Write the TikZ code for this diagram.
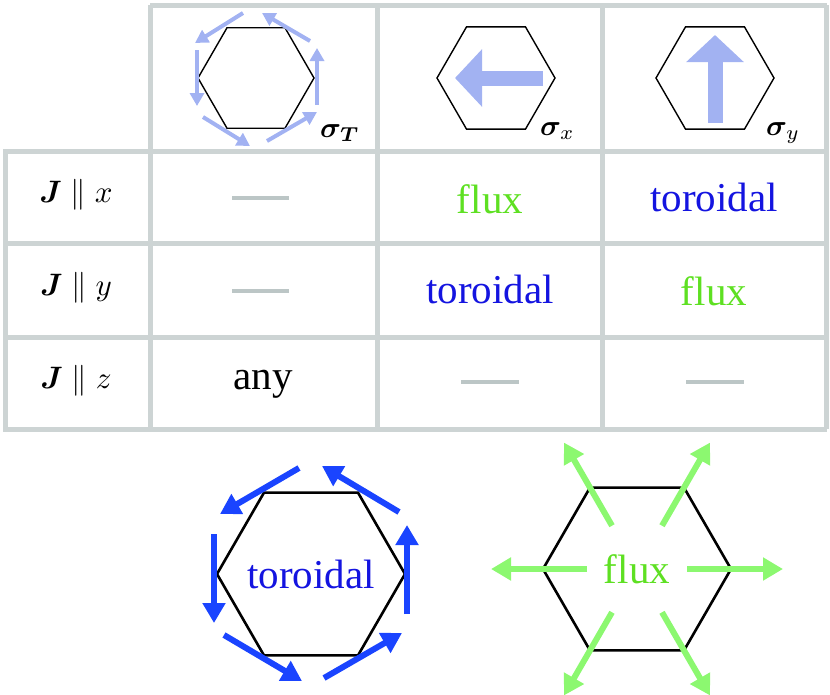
\documentclass[tikz,border=0pt]{standalone}
\usepackage{graphicx}
\usepackage{amsmath,bm}
\usepackage{fontspec}
\setmainfont{Liberation Serif}
\usetikzlibrary{arrows.meta,calc}
\definecolor{grid}{HTML}{CDD4D4}
\definecolor{dashc}{HTML}{BCC6C6}
\definecolor{lblue}{HTML}{A2B2F2}
\definecolor{tblue}{HTML}{1414E0}
\definecolor{ablue}{HTML}{1A44FF}
\definecolor{tgreen}{HTML}{5EE022}
\definecolor{agreen}{HTML}{8CF870}
\newcommand{\mybig}[2]{\scalebox{#1}{#2}}
\tikzset{
  gridline/.style={grid,line width=5pt},
  hex/.style={black,line width=1.4pt},
  hexb/.style={black,line width=2.6pt},
  txt/.style={font=\fontsize{41}{44}\selectfont,inner sep=0pt},
  lab/.style={inner sep=0pt},
  sig/.style={inner sep=0pt,anchor=base west},
  nada/.style={dashc,line width=4pt},
  tsmall/.style={lblue,line width=4pt,-{Triangle[length=13pt,width=14pt]}},
  tbig/.style={lblue,line width=15pt,-{Triangle[length=27pt,width=56pt]}},
  tor/.style={ablue,line width=6pt,-{Triangle[length=20pt,width=22pt]}},
  flx/.style={agreen,line width=6pt,-{Triangle[length=20pt,width=22pt]}},
}
\begin{document}
\begin{tikzpicture}[x=1pt,y=-1pt]
\useasboundingbox (0,0) rectangle (830,694);
% grid
\draw[gridline] (150,5) -- (827,5);
\draw[gridline] (3,151) -- (827,151);
\draw[gridline] (3,243) -- (827,243);
\draw[gridline] (3,337) -- (827,337);
\draw[gridline] (3,429) -- (827,429);
\draw[gridline] (5,151) -- (5,429);
\draw[gridline] (150,5) -- (150,429);
\draw[gridline] (377,5) -- (377,429);
\draw[gridline] (602,5) -- (602,429);
\draw[gridline] (826,5) -- (826,429);
% header hexagons
\draw[hex] (256,78) ++(0:58) -- ++(120:58) -- ++(180:58) -- ++(240:58) -- ++(300:58) -- ++(0:58) -- cycle;
\draw[hex] (496,78) ++(0:59) -- ++(120:59) -- ++(180:59) -- ++(240:59) -- ++(300:59) -- ++(0:59) -- cycle;
\draw[hex] (715,78) ++(0:59) -- ++(120:59) -- ++(180:59) -- ++(240:59) -- ++(300:59) -- ++(0:59) -- cycle;
\coordinate (t1a) at (317,105); \coordinate (t1b) at (317,48);
\coordinate (t2a) at (310,41); \coordinate (t2b) at (262,13);
\coordinate (t3a) at (243,13); \coordinate (t3b) at (195,43);
\coordinate (t4a) at (197,50); \coordinate (t4b) at (197,106);
\coordinate (t5a) at (203,117); \coordinate (t5b) at (250,146);
\coordinate (t6a) at (267,141); \coordinate (t6b) at (317,112);
\foreach \i in {1,...,6} \draw[tsmall] (t\i a) -- (t\i b);
\coordinate (xa) at (543,78); \coordinate (xb) at (455,78);
\draw[tbig] (xa) -- (xb);
\coordinate (ya) at (715,123); \coordinate (yb) at (715,35);
\draw[tbig] (ya) -- (yb);
\node[sig] (sT) at (320,137) {\mybig{2.9}{$\bm{\sigma_T}$}};
\node[sig] (sX) at (540,135) {\mybig{2.9}{$\bm{\sigma}_x$}};
\node[sig] (sY) at (766,135) {\mybig{2.9}{$\bm{\sigma}_y$}};
% row labels
\node[lab] (r1) at (76,195) {\mybig{3.1}{$\bm{J}\parallel x$}};
\node[lab] (r2) at (76,288) {\mybig{3.1}{$\bm{J}\parallel y$}};
\node[lab] (r3) at (76,381) {\mybig{3.1}{$\bm{J}\parallel z$}};
% cells
\draw[nada] (232,198) -- (289,198);
\draw[nada] (232,291) -- (289,291);
\draw[nada] (461,382) -- (519,382);
\draw[nada] (686,382) -- (744,382);
\node[txt,tgreen] (c12) at (490,199) {flux};
\node[txt,tblue] (c13) at (714,197) {toroidal};
\node[txt,tblue] (c22) at (490,289) {toroidal};
\node[txt,tgreen] (c23) at (714,291) {flux};
\node[txt] (c31) at (263,384) {any};
% bottom toroidal
\draw[hexb] (311,574) ++(0:94) -- ++(120:94) -- ++(180:94) -- ++(240:94) -- ++(300:94) -- ++(0:94) -- cycle;
\coordinate (b1a) at (407,614); \coordinate (b1b) at (407,525);
\coordinate (b2a) at (399,512); \coordinate (b2b) at (322,466);
\coordinate (b3a) at (299,468); \coordinate (b3b) at (220,514);
\coordinate (b4a) at (214,534); \coordinate (b4b) at (214,623);
\coordinate (b5a) at (224,635); \coordinate (b5b) at (302,681);
\coordinate (b6a) at (324,678); \coordinate (b6b) at (402,633);
\foreach \i in {1,...,6} \draw[tor] (b\i a) -- (b\i b);
\node[txt,tblue] (bt) at (311,574) {toroidal};
% bottom flux
\coordinate (fc) at (637,569);
\draw[hexb] (fc) ++(0:94) -- ++(120:94) -- ++(180:94) -- ++(240:94) -- ++(300:94) -- ++(0:94) -- cycle;
\foreach \a in {0,60,...,300}
  \draw[flx] ($(fc)+(\a:50)$) -- ($(fc)+(\a:146)$);
\node[txt,tgreen] (bf) at (fc) {flux};
\end{tikzpicture}
\end{document}
